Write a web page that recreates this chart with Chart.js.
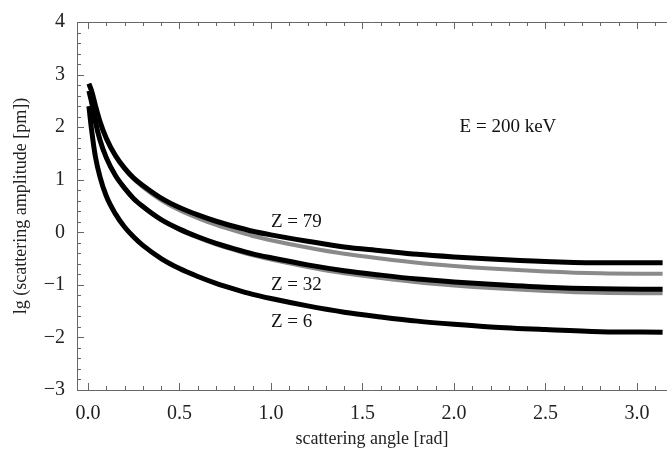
<!DOCTYPE html>
<html>
<head>
<meta charset="utf-8">
<script src="https://cdn.jsdelivr.net/npm/chart.js@4"></script>
<style>
  html, body { margin: 0; padding: 0; background: #fff; }
  #wrap { width: 667px; height: 450px; }
</style>
</head>
<body>
<div id="wrap"><canvas id="c" width="667" height="450"></canvas></div>
<script>
// ángulo de dispersión [rad]
const ANGLES = [0.005, 0.02, 0.04, 0.066, 0.1, 0.15, 0.2, 0.25, 0.3, 0.4, 0.5, 0.6, 0.7, 0.8, 0.9, 1.0,
                1.2, 1.4, 1.6, 1.8, 2.0, 2.2, 2.5, 2.8, 3.14];

// lg(amplitud)
const Z79_BLACK = [2.83, 2.69, 2.42, 2.10, 1.79, 1.46, 1.22, 1.03, 0.89, 0.65, 0.47, 0.33, 0.21, 0.11, 0.02, -0.05,
                   -0.17, -0.28, -0.35, -0.42, -0.47, -0.51, -0.555, -0.58, -0.58];
const Z79_GRAY  = [2.79, 2.66, 2.39, 2.08, 1.77, 1.44, 1.20, 1.01, 0.86, 0.61, 0.42, 0.27, 0.14, 0.03, -0.07, -0.15,
                   -0.29, -0.41, -0.50, -0.58, -0.64, -0.69, -0.745, -0.78, -0.79];
const Z32_BLACK = [2.69, 2.47, 2.11, 1.75, 1.42, 1.08, 0.84, 0.64, 0.49, 0.24, 0.06, -0.085, -0.21, -0.315, -0.41, -0.485,
                   -0.62, -0.73, -0.815, -0.89, -0.945, -0.99, -1.045, -1.075, -1.085];
const Z32_GRAY  = [2.69, 2.47, 2.11, 1.75, 1.42, 1.08, 0.84, 0.64, 0.49, 0.24, 0.05, -0.10, -0.23, -0.34, -0.44, -0.52,
                   -0.66, -0.78, -0.87, -0.95, -1.01, -1.06, -1.115, -1.15, -1.16];
const Z6_BLACK  = [2.40, 1.94, 1.45, 1.05, 0.69, 0.35, 0.10, -0.09, -0.25, -0.50, -0.69, -0.84, -0.97, -1.08, -1.18, -1.26,
                   -1.40, -1.52, -1.61, -1.69, -1.75, -1.80, -1.85, -1.89, -1.90];

const X_TICKS = [0, 0.5, 1.0, 1.5, 2.0, 2.5, 3.0];
const Y_TICKS = [-3, -2, -1, 0, 1, 2, 3, 4];

const LABELS = [
  { text: 'Z = 79',      x: 1.0,   y: 0.2,  align: 'left' },
  { text: 'Z = 32',      x: 1.0,   y: -1.0, align: 'left' },
  { text: 'Z = 6',       x: 1.0,   y: -1.7, align: 'left' },
  { text: 'E = 200 keV', x: 2.295, y: 2.0,  align: 'center' }
];

const SERIF = "'Liberation Serif', 'DejaVu Serif', serif";
const BLACK = '#000000', GRAY = '#8a8a8a', FRAME = '#666666';

const pts = ys => ANGLES.map((x, i) => ({ x, y: ys[i] }));
const line = (ys, color, w) => ({
  data: pts(ys), borderColor: color, borderWidth: w, pointRadius: 0,
  cubicInterpolationMode: 'monotone', fill: false
});

// marco con marcas hacia dentro (estilo Mathematica)
const framePlugin = {
  id: 'frame',
  afterDatasetsDraw(chart) {
    const { ctx, chartArea: a, scales: { x, y } } = chart;
    ctx.save();
    ctx.strokeStyle = FRAME;
    ctx.lineWidth = 1;
    ctx.beginPath();
    ctx.moveTo(a.right, a.top + 0.5); ctx.lineTo(a.left + 0.5, a.top + 0.5);
    ctx.lineTo(a.left + 0.5, a.bottom + 0.5); ctx.lineTo(a.right, a.bottom + 0.5);
    for (let v = 0; v <= 3.15; v += 0.1) {
      const px = Math.round(x.getPixelForValue(v)) + 0.5;
      const major = Math.abs(v * 2 - Math.round(v * 2)) < 1e-6;
      const len = major ? 7 : 4;
      ctx.moveTo(px, a.bottom); ctx.lineTo(px, a.bottom - len);
      ctx.moveTo(px, a.top); ctx.lineTo(px, a.top + len);
    }
    for (let v = -3; v <= 4.001; v += 0.2) {
      const py = Math.round(y.getPixelForValue(v)) + 0.5;
      const major = Math.abs(v - Math.round(v)) < 1e-6;
      const len = major ? 7 : 4;
      ctx.moveTo(a.left, py); ctx.lineTo(a.left + len, py);
    }
    ctx.stroke();

    ctx.fillStyle = '#111';
    ctx.font = '19px ' + SERIF;
    ctx.textBaseline = 'middle';
    LABELS.forEach(l => {
      ctx.textAlign = l.align;
      ctx.fillText(l.text, x.getPixelForValue(l.x), y.getPixelForValue(l.y));
    });
    ctx.restore();
  }
};

// Chart.js pinta el dataset 0 encima: negras primero
new Chart(document.getElementById('c'), {
  type: 'line',
  data: {
    datasets: [
      line(Z79_BLACK, BLACK, 5),
      line(Z32_BLACK, BLACK, 5),
      line(Z6_BLACK, BLACK, 5),
      line(Z79_GRAY, GRAY, 4),
      line(Z32_GRAY, GRAY, 4)
    ]
  },
  options: {
    responsive: false,
    animation: false,
    layout: { padding: { top: 22, right: 0, bottom: 0, left: 0 } },
    plugins: { legend: { display: false }, tooltip: { enabled: false } },
    scales: {
      x: {
        type: 'linear', min: -0.06, max: 3.164,
        grid: { display: false }, border: { display: false },
        afterBuildTicks: s => { s.ticks = X_TICKS.map(v => ({ value: v })); },
        afterFit: s => { s.height = 60; },
        ticks: { color: '#222', font: { family: SERIF, size: 20 }, padding: 4, maxRotation: 0,
                 callback: v => v.toFixed(1) },
        title: { display: true, text: 'scattering angle [rad]', color: '#222',
                 font: { family: SERIF, size: 18 }, padding: { top: 4, bottom: 0 } }
      },
      y: {
        type: 'linear', min: -3, max: 4,
        grid: { display: false }, border: { display: false },
        afterBuildTicks: s => { s.ticks = Y_TICKS.map(v => ({ value: v })); },
        afterFit: s => { s.width = 77; },
        ticks: { color: '#222', font: { family: SERIF, size: 20 }, padding: 4,
                 callback: v => v < 0 ? '\u2212' + Math.abs(v) : String(v) },
        title: { display: true, text: 'lg (scattering amplitude [pm])', color: '#222',
                 font: { family: SERIF, size: 18 }, padding: { top: 10, bottom: 0 } }
      }
    }
  },
  plugins: [framePlugin]
});
</script>
</body>
</html>
